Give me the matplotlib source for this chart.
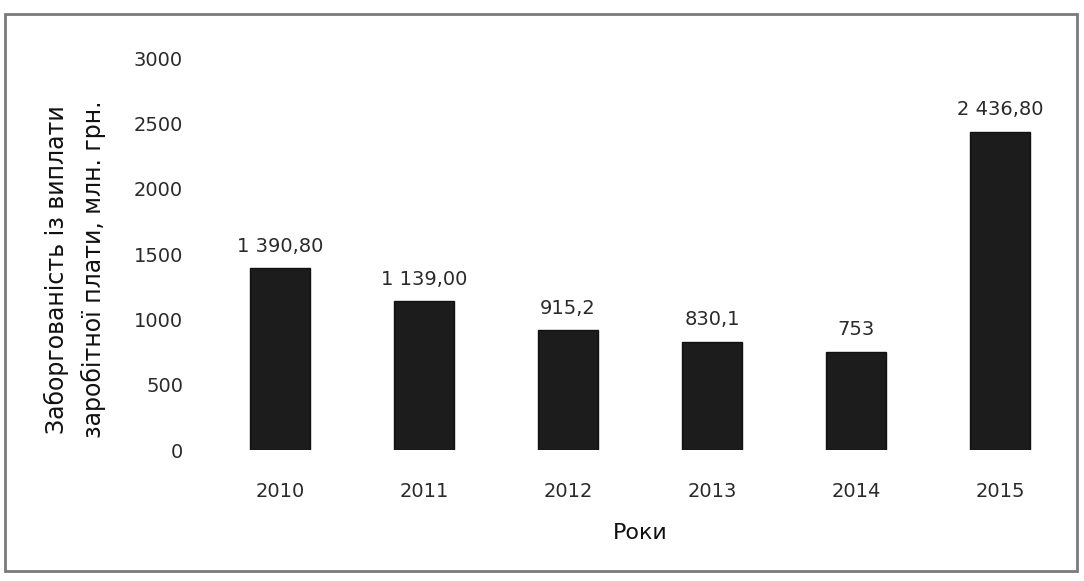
import matplotlib.pyplot as plt
from matplotlib.patches import Rectangle

plt.rcParams['font.family'] = ['DejaVu Sans']

years = ['2010', '2011', '2012', '2013', '2014', '2015']
debt = [1390.8, 1139.0, 915.2, 830.1, 753.0, 2436.8]
bar_labels = ['1 390,80', '1 139,00', '915,2', '830,1', '753', '2 436,80']
yticks = [0, 500, 1000, 1500, 2000, 2500, 3000]

fig = plt.figure(figsize=(10.84, 5.81), dpi=100)
ax = fig.add_axes([208 / 1084, 1 - 450 / 581, 864 / 1084, 392 / 581])

x = range(len(years))
ax.bar(x, debt, width=0.42, color='#1c1c1c', edgecolor='#111111', linewidth=1)

for xi, v, lab in zip(x, debt, bar_labels):
    ax.annotate(lab, (xi, v), xytext=(0, 9), textcoords='offset points',
                ha='center', va='bottom', fontsize=14, color='#2a2a2a')

ax.set_xlim(-0.5, 5.5)
ax.set_ylim(0, 3000)
ax.set_xticks(list(x))
ax.set_xticklabels(years, fontsize=14, color='#2a2a2a')
ax.set_yticks(yticks)
ax.set_yticklabels([str(t) for t in yticks], fontsize=14, color='#2a2a2a')
ax.tick_params(length=0)
ax.tick_params(axis='y', pad=18)
ax.tick_params(axis='x', pad=23)
for s in ax.spines.values():
    s.set_visible(False)

ax.set_xlabel('Роки', fontsize=16, color='#111111', labelpad=16)
ax.set_ylabel('Заборгованість із виплати\nзаробітної плати, млн. грн.',
              fontsize=17, color='#111111', labelpad=16, linespacing=1.6)
ax.yaxis.set_label_coords(-0.118, 0.46)

# grey frame round the whole chart
fig.patches.append(Rectangle((5 / 1084, 10 / 581), 1072 / 1084, 557 / 581,
                             transform=fig.transFigure, fill=False,
                             edgecolor='#7a7a7a', linewidth=2))

fig.savefig('out.png', dpi=100)
